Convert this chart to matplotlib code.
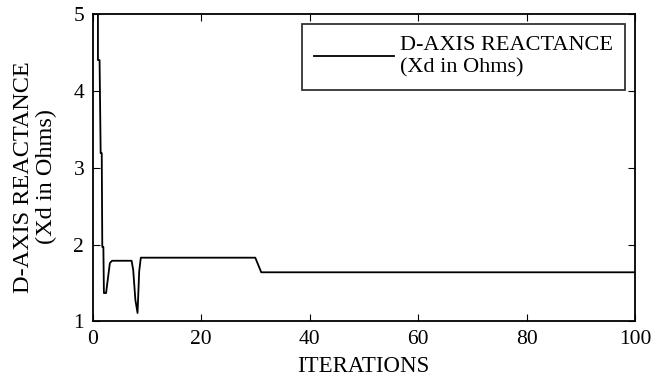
import matplotlib
matplotlib.use('Agg')
import matplotlib.pyplot as plt

# reactance trace (iteration, Xd in ohms)
iters = [0.5, 1.0, 1.0, 1.3, 1.5, 1.7, 1.8, 2.0, 2.1, 2.5, 2.8, 3.2, 3.6, 7.2, 7.5, 7.9, 8.3, 8.6, 8.9, 30.0, 31.1, 100]
xd = [5.0, 5.0, 4.40, 4.40, 3.19, 3.19, 1.97, 1.97, 1.37, 1.37, 1.54, 1.76, 1.79, 1.79, 1.67, 1.28, 1.11, 1.65, 1.83, 1.83, 1.64, 1.64]

x_ticks = [0, 20, 40, 60, 80, 100]
y_ticks = [1, 2, 3, 4, 5]

plt.rcParams['font.family'] = ['Liberation Serif', 'DejaVu Serif']

fig = plt.figure(figsize=(6.52, 3.78), dpi=100)
ax = fig.add_axes([0.1419, 0.1495, 0.974 - 0.1419, 0.963 - 0.1495])

ax.plot(iters, xd, color='black', linewidth=1.3, label='D-AXIS REACTANCE\n(Xd in Ohms)')

ax.set_xlim(0, 100)
ax.set_ylim(1, 5)
ax.set_xticks(x_ticks)
ax.set_yticks(y_ticks)
ax.tick_params(direction='in', top=True, right=True, length=5, labelsize=15.5, pad=6)
for s in ax.spines.values():
    s.set_linewidth(1.3)

ax.set_xlabel('ITERATIONS', fontsize=16.5, labelpad=5)
ax.set_ylabel('D-AXIS REACTANCE\n(Xd in Ohms)', fontsize=17.5, linespacing=1.1)
ax.yaxis.set_label_coords(-0.066, 0.47)

leg = ax.legend(loc='upper right', fontsize=16, frameon=True, fancybox=False,
                edgecolor='black', handlelength=3.6, handletextpad=0.25,
                borderaxespad=0.45, borderpad=0.55)
leg.get_frame().set_linewidth(1.3)

fig.savefig('out.png', dpi=100)
